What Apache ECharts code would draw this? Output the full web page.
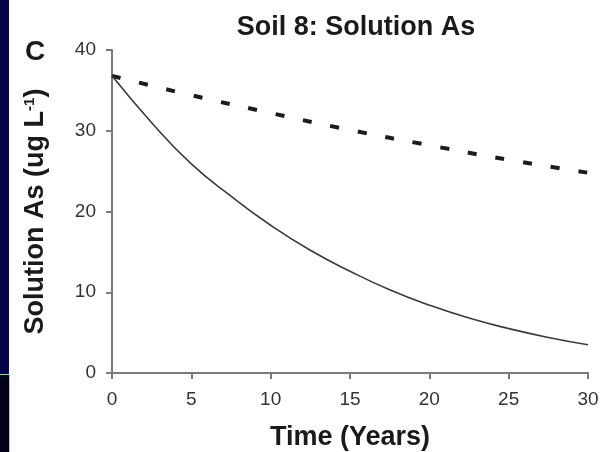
<!DOCTYPE html>
<html>
<head>
<meta charset="utf-8">
<script src="https://cdn.jsdelivr.net/npm/echarts@6/dist/echarts.min.js"></script>
<style>
html,body{margin:0;padding:0;background:#fff;}
#chart{width:606px;height:452px;}
</style>
</head>
<body>
<div id="chart"></div>
<script>
// Data
var years = [0, 2.5, 5, 7.5, 10, 12.5, 15, 17.5, 20, 22.5, 25, 27.5, 30];
var solidValues = [36.8, 31.0, 25.9, 21.9, 18.3, 15.2, 12.6, 10.3, 8.4, 6.8, 5.5, 4.4, 3.5];
var dashYears = [0, 5, 10, 15, 20, 25, 30];
var dashValues = [36.8, 34.4, 32.2, 30.1, 28.2, 26.4, 24.8];
var xTicks = [0, 5, 10, 15, 20, 25, 30];
var yTicks = [0, 10, 20, 30, 40];
var titleText = 'Soil 8: Solution As';
var panelLetter = 'C';
var xName = 'Time (Years)';

var FONT = '"Liberation Sans", Arial, sans-serif';
var chart = echarts.init(document.getElementById('chart'), null, {renderer: 'canvas'});

function pairs(xs, ys) { return xs.map(function (x, i) { return [x, ys[i]]; }); }

var option = {
  backgroundColor: '#ffffff',
  animation: false,
  grid: {left: 112, right: 18, top: 50, bottom: 79, containLabel: false, outerBoundsMode: 'none'},
  xAxis: {
    type: 'value', min: xTicks[0], max: xTicks[xTicks.length - 1], interval: 5,
    name: xName, nameLocation: 'middle', nameGap: 51,
    nameTextStyle: {fontFamily: FONT, fontSize: 27, fontWeight: 'bold', color: '#1a1a1a'},
    axisLine: {lineStyle: {color: '#7a7a7a', width: 2}},
    axisTick: {show: true, inside: false, length: 6, lineStyle: {color: '#7a7a7a', width: 2}},
    axisLabel: {fontFamily: FONT, fontSize: 19, color: '#333', margin: 17},
    splitLine: {show: false}
  },
  yAxis: {
    type: 'value', min: yTicks[0], max: yTicks[yTicks.length - 1], interval: 10,
    name: '{a|Solution As (ug L}{s|-1}{a|)}', nameLocation: 'middle', nameGap: 63, nameRotate: 90,
    nameTextStyle: {
      fontFamily: FONT, fontSize: 27, fontWeight: 'bold', color: '#1a1a1a',
      rich: {
        a: {fontFamily: FONT, fontSize: 27, fontWeight: 'bold', color: '#1a1a1a'},
        s: {fontFamily: FONT, fontSize: 15, fontWeight: 'bold', color: '#1a1a1a', verticalAlign: 'top', padding: [0, 0, 12, 0]}
      }
    },
    axisLine: {show: true, lineStyle: {color: '#7a7a7a', width: 2}},
    axisTick: {show: true, inside: false, length: 6, lineStyle: {color: '#7a7a7a', width: 2}},
    axisLabel: {fontFamily: FONT, fontSize: 19, color: '#333', margin: 16},
    splitLine: {show: false}
  },
  series: [
    {
      type: 'line', data: pairs(dashYears, dashValues), showSymbol: false, smooth: true,
      lineStyle: {color: '#1c1c1c', width: 4, type: [9, 19], cap: 'butt'}
    },
    {
      type: 'line', data: pairs(years, solidValues), showSymbol: false, smooth: true,
      lineStyle: {color: '#3a3a3a', width: 1.6}
    }
  ],
  graphic: [
    {type: 'rect', left: 0, top: 0, shape: {width: 9, height: 374}, style: {fill: '#03034a'}},
    {type: 'rect', left: 0, top: 374, shape: {width: 9, height: 78}, style: {fill: '#000018'}},
    {type: 'line', shape: {x1: 0, y1: 374.5, x2: 9.5, y2: 374.5}, style: {stroke: '#8fe08f', lineWidth: 1}},
    {type: 'line', shape: {x1: 9.5, y1: 374.5, x2: 9.5, y2: 452}, style: {stroke: '#8fe08f', lineWidth: 1}},
    {type: 'text', x: 356, y: 28, style: {text: titleText, fontFamily: FONT, fontSize: 27, fontWeight: 'bold', fill: '#1a1a1a', align: 'center', verticalAlign: 'middle'}},
    {type: 'text', x: 35, y: 52, style: {text: panelLetter, fontFamily: FONT, fontSize: 28, fontWeight: 'bold', fill: '#1a1a1a', align: 'center', verticalAlign: 'middle'}}
  ]
};
chart.setOption(option);
</script>
</body>
</html>
